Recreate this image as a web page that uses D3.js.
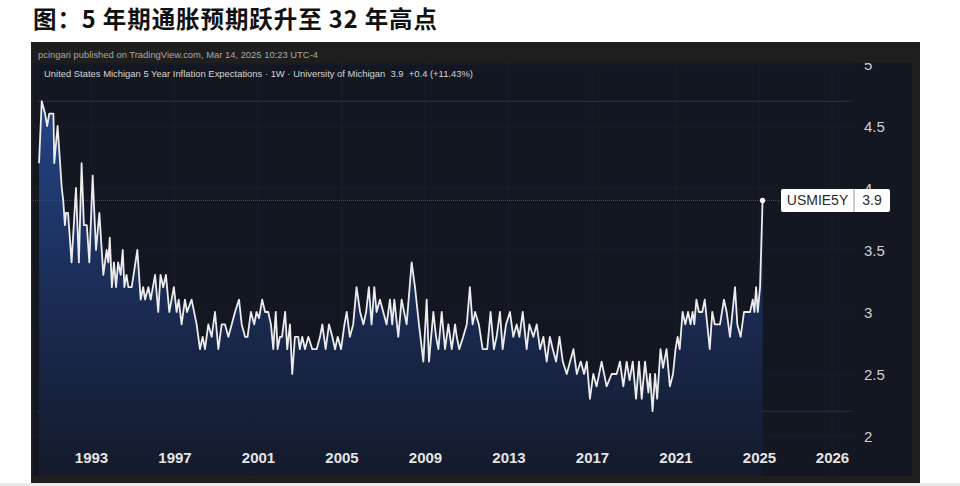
<!DOCTYPE html>
<html><head><meta charset="utf-8">
<script src="https://cdn.jsdelivr.net/npm/d3@7"></script>
<style>
html,body{margin:0;padding:0;background:#fff;}
svg{display:block;}
</style></head>
<body>
<svg id="chart" width="960" height="486"></svg>
<script>
const titleText = "图：5 年期通胀预期跃升至 32 年高点";
const publishedText = "pcingari published on TradingView.com, Mar 14, 2025 10:23 UTC-4";
const legendText = "United States Michigan 5 Year Inflation Expectations · 1W · University of Michigan  3.9  +0.4 (+11.43%)";
const symbol = "USMIE5Y";
const lastLabel = "3.9";
const xTickYears = [1993, 1997, 2001, 2005, 2009, 2013, 2017, 2021, 2025, 2026];
const yTicks = [2, 2.5, 3, 3.5, 4, 4.5, 5];
const years = [1990.51,1990.64,1990.8,1990.9,1991.0,1991.2,1991.24,1991.4,1991.5,1991.6,1991.67,1991.75,1991.8,1991.9,1992.07,1992.28,1992.42,1992.55,1992.66,1992.8,1992.92,1993.08,1993.24,1993.4,1993.59,1993.75,1993.83,1993.9,1994.0,1994.1,1994.2,1994.3,1994.42,1994.52,1994.6,1994.7,1994.79,1994.95,1995.22,1995.38,1995.5,1995.59,1995.75,1995.86,1996.07,1996.22,1996.33,1996.46,1996.59,1996.75,1996.97,1997.1,1997.2,1997.34,1997.5,1997.6,1997.82,1998.06,1998.22,1998.35,1998.46,1998.62,1998.78,1998.94,1999.1,1999.26,1999.42,1999.58,1999.74,1999.9,2000.09,2000.22,2000.38,2000.5,2000.66,2000.82,2000.93,2001.05,2001.2,2001.34,2001.49,2001.62,2001.73,2001.85,2001.94,2002.05,2002.15,2002.3,2002.4,2002.53,2002.64,2002.77,2002.93,2003.0,2003.12,2003.25,2003.41,2003.6,2003.81,2003.97,2004.08,2004.24,2004.4,2004.56,2004.69,2004.82,2004.98,2005.14,2005.25,2005.4,2005.56,2005.72,2005.89,2006.05,2006.18,2006.31,2006.44,2006.57,2006.68,2006.84,2007.0,2007.16,2007.32,2007.43,2007.53,2007.72,2007.88,2008.12,2008.36,2008.52,2008.71,2008.92,2009.08,2009.19,2009.4,2009.53,2009.64,2009.8,2009.96,2010.12,2010.28,2010.44,2010.52,2010.64,2010.83,2011.0,2011.15,2011.28,2011.4,2011.58,2011.76,2011.98,2012.14,2012.3,2012.43,2012.59,2012.72,2012.88,2013.07,2013.23,2013.39,2013.52,2013.68,2013.87,2014.0,2014.19,2014.35,2014.51,2014.67,2014.83,2014.98,2015.12,2015.28,2015.44,2015.6,2015.79,2015.95,2016.11,2016.27,2016.46,2016.62,2016.75,2016.9,2017.06,2017.22,2017.46,2017.7,2017.94,2018.18,2018.34,2018.5,2018.66,2018.8,2018.95,2019.11,2019.25,2019.38,2019.54,2019.7,2019.78,2019.9,2020.02,2020.12,2020.28,2020.4,2020.57,2020.73,2020.88,2021.0,2021.1,2021.2,2021.34,2021.47,2021.6,2021.72,2021.82,2021.9,2022.0,2022.12,2022.28,2022.4,2022.52,2022.64,2022.76,2022.88,2023.13,2023.32,2023.45,2023.61,2023.85,2023.96,2024.12,2024.28,2024.57,2024.7,2024.78,2024.86,2024.94,2025.05,2025.17];
const values = [4.2,4.7,4.6,4.5,4.6,4.6,4.2,4.5,4.25,4.0,3.9,3.7,3.8,3.8,3.4,4.0,3.4,4.2,3.7,3.7,3.4,4.1,3.5,3.8,3.3,3.5,3.4,3.6,3.2,3.4,3.2,3.4,3.3,3.5,3.2,3.3,3.2,3.2,3.5,3.1,3.2,3.1,3.2,3.1,3.3,3.0,3.3,3.2,3.3,3.0,3.2,3.0,3.1,2.9,3.1,3.0,3.1,2.9,2.7,2.8,2.7,2.9,2.8,3.0,2.7,2.9,2.9,2.8,2.9,3.0,3.1,2.9,2.8,2.8,3.0,2.9,3.0,2.95,3.1,3.0,3.0,2.9,2.7,3.0,2.7,2.8,2.8,3.0,2.7,2.9,2.5,2.8,2.8,2.7,2.8,2.7,2.8,2.7,2.7,2.8,2.9,2.7,2.9,2.8,2.7,2.8,2.7,2.9,3.0,2.8,2.9,3.2,3.0,2.9,3.0,3.2,2.9,3.2,3.0,3.1,3.0,2.9,3.1,2.9,3.1,2.8,3.1,2.9,3.4,3.2,2.9,2.6,3.1,2.6,3.0,2.8,2.7,3.0,2.7,2.9,2.7,2.9,2.8,2.7,2.8,2.9,3.2,2.9,3.0,2.9,2.7,2.7,3.0,2.7,2.8,3.0,2.7,2.9,3.0,2.8,2.9,2.8,3.0,2.7,2.9,2.8,2.9,2.7,2.8,2.6,2.8,2.7,2.6,2.8,2.6,2.5,2.6,2.7,2.5,2.6,2.5,2.6,2.3,2.5,2.4,2.6,2.4,2.5,2.5,2.6,2.4,2.6,2.45,2.6,2.3,2.6,2.3,2.6,2.35,2.5,2.2,2.5,2.3,2.7,2.55,2.7,2.4,2.5,2.7,2.8,2.7,3.0,2.9,3.0,2.9,3.0,2.9,3.1,3.0,3.0,3.1,2.9,2.7,3.0,2.9,2.9,3.1,3.0,2.8,3.2,2.9,2.8,3.0,3.0,3.1,3.0,3.2,3.0,3.2,3.9];

const data = years.map((t, i) => ({t, v: values[i]}));
const svg = d3.select("#chart");
const font = "'Liberation Sans', Arial, 'DejaVu Sans', sans-serif";

// page title
svg.append("text").attr("x", 33).attr("y", 27.5)
  .attr("font-family", "'Noto Sans CJK SC', sans-serif").attr("font-weight", 700)
  .attr("font-size", 23.5).attr("fill", "#111")
  .attr("textLength", 404).attr("lengthAdjust", "spacing").text(titleText);

// bottom page rule
svg.append("rect").attr("x", 0).attr("y", 483).attr("width", 960).attr("height", 3).attr("fill", "#e9e9e9");

// dark panel
const panel = {x: 31, y: 42, w: 889, h: 441};
svg.append("rect").attr("x", panel.x).attr("y", panel.y).attr("width", panel.w).attr("height", panel.h).attr("fill", "#1e1e1e");
const plot = {x: 33, y: 63, w: 879, h: 413};
svg.append("rect").attr("x", plot.x).attr("y", plot.y).attr("width", plot.w).attr("height", plot.h).attr("fill", "#131722");

const defs = svg.append("defs");
defs.append("clipPath").attr("id", "plotclip").append("rect")
  .attr("x", plot.x).attr("y", plot.y).attr("width", plot.w).attr("height", plot.h);
const grad = defs.append("linearGradient").attr("id", "areagrad")
  .attr("gradientUnits", "userSpaceOnUse").attr("x1", 0).attr("x2", 0).attr("y1", 100).attr("y2", 476);
grad.append("stop").attr("offset", 0).attr("stop-color", "#244585");
grad.append("stop").attr("offset", 0.55).attr("stop-color", "#1a2a52");
grad.append("stop").attr("offset", 1).attr("stop-color", "#141a2b");

// scales (piecewise x so the future 2026 label sits where TradingView puts it)
const x = d3.scaleLinear().domain([1993, 2025.2, 2026]).range([91, 763.2, 832]);
const y = d3.scaleLinear().domain([2, 5]).range([436, 64]);

const g = svg.append("g").attr("clip-path", "url(#plotclip)");

// grid
g.selectAll("line.vg").data(xTickYears).join("line").attr("class", "vg")
  .attr("x1", d => x(d)).attr("x2", d => x(d)).attr("y1", plot.y).attr("y2", plot.y + plot.h)
  .attr("stroke", "#1a1e2a").attr("stroke-width", 1);
g.selectAll("line.hg").data(yTicks).join("line").attr("class", "hg")
  .attr("x1", plot.x).attr("x2", 855).attr("y1", d => y(d)).attr("y2", d => y(d))
  .attr("stroke", "#1a1e2a").attr("stroke-width", 1);

// high / low lines
const hi = d3.max(values), lo = d3.min(values);
g.selectAll("line.hl").data([hi, lo]).join("line").attr("class", "hl")
  .attr("x1", plot.x + 4).attr("x2", 852).attr("y1", d => y(d)).attr("y2", d => y(d))
  .attr("stroke", "#2f3340").attr("stroke-width", 1);

// area + line
const area = d3.area().x(d => x(d.t)).y0(plot.y + plot.h).y1(d => y(d.v));
g.append("path").datum(data).attr("d", area).attr("fill", "url(#areagrad)");

// last price line
const last = data[data.length - 1];
g.append("line").attr("x1", plot.x).attr("x2", 781).attr("y1", y(last.v)).attr("y2", y(last.v))
  .attr("stroke", "#4a4e5a").attr("stroke-width", 1).attr("stroke-dasharray", "1,1");

const line = d3.line().x(d => x(d.t)).y(d => y(d.v));
g.append("path").datum(data).attr("d", line).attr("fill", "none")
  .attr("stroke", "#ececec").attr("stroke-width", 1.8).attr("stroke-linejoin", "round");

g.append("circle").attr("cx", x(last.t)).attr("cy", y(last.v)).attr("r", 2.6).attr("fill", "#ffffff");

// y axis labels
const yAxis = d3.axisRight(y).tickValues(yTicks).tickSize(0).tickPadding(0).tickFormat(d3.format("~g"));
const ya = g.append("g").attr("transform", "translate(864,0)").call(yAxis);
ya.select(".domain").remove();
ya.selectAll("text").attr("font-family", font).attr("font-size", 15).attr("fill", "#d0d2d8").attr("dy", "0.35em");

// x axis labels
const xAxis = d3.axisBottom(x).tickValues(xTickYears).tickSize(0).tickPadding(0).tickFormat(d3.format("d"));
const xa = g.append("g").attr("transform", "translate(0,452)").call(xAxis);
xa.select(".domain").remove();
xa.selectAll("text").attr("font-family", font).attr("font-size", 15).attr("font-weight", 700).attr("fill", "#e4e4e4");

// header texts
svg.append("text").attr("x", 38).attr("y", 58).attr("font-family", font).attr("font-size", 9.4)
  .attr("fill", "#a8a8a8").attr("textLength", 280).attr("lengthAdjust", "spacingAndGlyphs").text(publishedText);
svg.append("text").attr("x", 44).attr("y", 76.5).attr("font-family", font).attr("font-size", 9.4)
  .style("white-space", "pre")
  .attr("fill", "#d6d6d6").attr("textLength", 429).attr("lengthAdjust", "spacingAndGlyphs").text(legendText);

// symbol label box (drawn over the axis, as in the reference)
const ly = y(last.v);
const lb = svg.append("g");
lb.append("rect").attr("x", 781).attr("y", ly - 11.5).attr("width", 109).attr("height", 23).attr("rx", 2)
  .attr("fill", "#ffffff");
lb.append("line").attr("x1", 854).attr("x2", 854).attr("y1", ly - 11.5).attr("y2", ly + 11.5)
  .attr("stroke", "#9a9a9a").attr("stroke-width", 1);
lb.append("text").attr("x", 817.5).attr("y", ly).attr("dy", "0.36em").attr("text-anchor", "middle")
  .attr("font-family", font).attr("font-size", 14).attr("fill", "#2a2a2a").text(symbol);
lb.append("text").attr("x", 872).attr("y", ly).attr("dy", "0.36em").attr("text-anchor", "middle")
  .attr("font-family", font).attr("font-size", 14).attr("fill", "#2a2a2a").text(lastLabel);
</script>
</body></html>
